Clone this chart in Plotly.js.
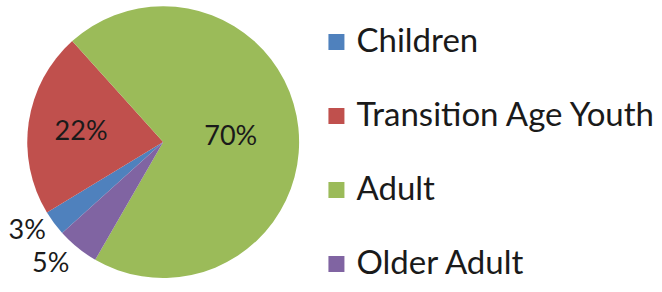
<!DOCTYPE html>
<html>
<head>
<meta charset="utf-8">
<script src="https://cdn.plot.ly/plotly-3.0.1.min.js"></script>
<style>html,body{margin:0;padding:0;background:#fff;}#chart{width:662px;height:292px;}
path.textline{display:none !important;}</style>
</head>
<body>
<div id="chart"></div>
<script>
const categories = ["Children", "Transition Age Youth", "Adult", "Older Adult"];
const shares = [3, 22, 70, 5];
const colors = ["#4F81BD", "#C0504D", "#9BBB59", "#8064A2"];
const textPositions = ["outside", "inside", "inside", "outside"];

const FONT = "Lato, 'DejaVu Sans', sans-serif";

const trace = {
  type: "pie",
  labels: categories.map(c => "<span style='font-size:33px;baseline-shift:11px'>" + c + "</span>"),
  values: shares,
  sort: false,
  direction: "clockwise",
  rotation: 228,
  marker: {colors: colors, line: {width: 0}},
  textinfo: "percent",
  textposition: textPositions,
  insidetextorientation: "horizontal",
  textfont: {family: FONT, size: 27, color: "#1a1a1a"},
  outsidetextfont: {family: FONT, size: 27, color: "#1a1a1a"},
  insidetextfont: {family: FONT, size: 27, color: "#1a1a1a"},
  automargin: false,
  domain: {x: [0.041, 0.452], y: [0.048, 0.979]},
  hoverinfo: "none"
};

const layout = {
  width: 662,
  height: 292,
  margin: {l: 0, r: 0, t: 0, b: 0},
  paper_bgcolor: "#fff",
  showlegend: true,
  legend: {
    x: 0.478, xanchor: "left",
    y: 1.0, yanchor: "top",
    font: {family: FONT, size: 54.6, color: "#1a1a1a"},
    traceorder: "normal",
    itemclick: false
  }
};

function enlargeLegendSymbols() {
  document.querySelectorAll("g.legendpoints path").forEach(function(p){
    p.setAttribute("d", "M8,8V-8H-8V8Z");
  });
}

Plotly.newPlot("chart", [trace], layout, {staticPlot: true, displayModeBar: false}).then(function(gd){
  enlargeLegendSymbols();
  gd.on("plotly_afterplot", enlargeLegendSymbols);
});
</script>
</body>
</html>
